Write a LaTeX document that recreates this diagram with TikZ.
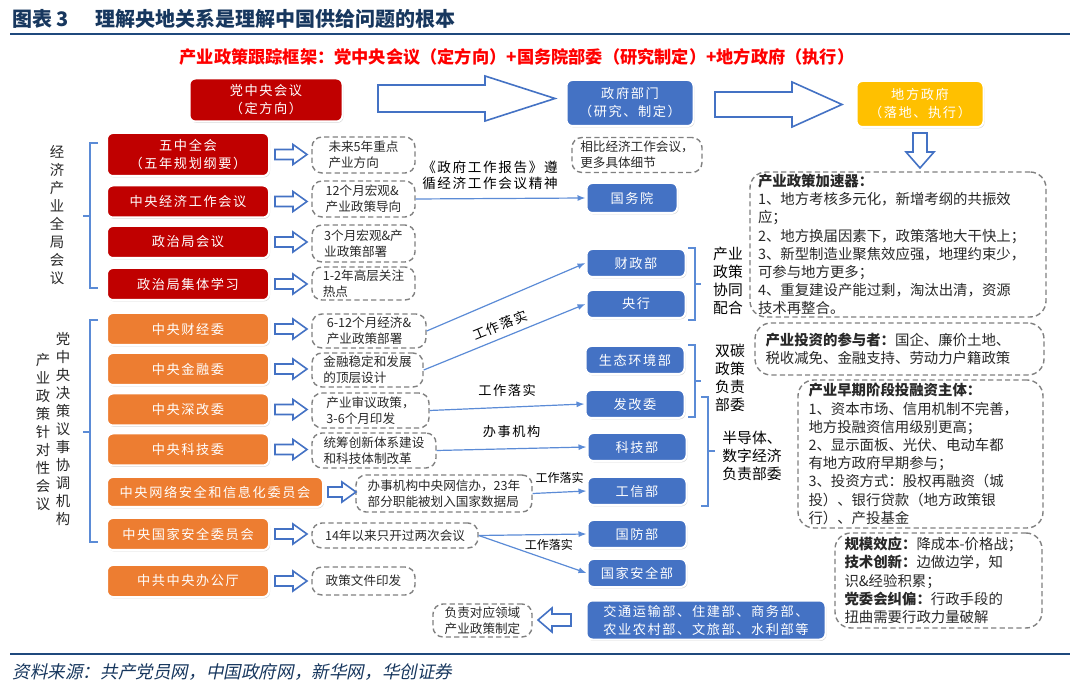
\documentclass[tikz,border=0pt]{standalone}
\usepackage{fontspec}
\setmainfont{Noto Sans CJK SC}
\newfontfamily\spacedfont{Noto Sans CJK SC}[LetterSpace=12]
\newfontfamily\slantfont{Noto Sans CJK SC}[FakeSlant=0.2]
\usepackage{xcolor}
\usetikzlibrary{arrows.meta,shadows,positioning,calc}
\definecolor{HCRed}   {RGB}{192,  0,  0}
\definecolor{HCBlue}  {RGB}{ 68,114,196}
\definecolor{HCOrange}{RGB}{237,125, 49}
\definecolor{HCGold}  {RGB}{255,192,  0}
\definecolor{HCNavy}  {RGB}{ 23, 55, 94}
\definecolor{HCRule}  {RGB}{ 31, 73,125}
\definecolor{HCLine}  {RGB}{ 91,139,214}
\definecolor{HCGray}  {RGB}{128,128,128}
\definecolor{HCText}  {RGB}{ 40, 40, 40}

\tikzset{
  box/.style={draw=white, line width=1pt, rounded corners=3pt, text=white, align=center,
    inner sep=0pt, font=\spacedfont\fontsize{6.6}{9}\selectfont,
    drop shadow={shadow xshift=0.5pt, shadow yshift=-0.7pt, opacity=0.3}},
  redbox/.style={box, fill=HCRed, minimum width=81pt, minimum height=16pt},
  orgbox/.style={box, fill=HCOrange, minimum width=81pt, minimum height=16pt},
  bluebox/.style={box, fill=HCBlue, minimum width=49.5pt, minimum height=14pt},
  note/.style={draw=HCGray, line width=0.7pt, dash pattern=on 2.6pt off 1.6pt,
    rounded corners=5pt, align=left, text=HCText, inner sep=0pt,
    font=\fontsize{6.3}{8}\selectfont},
  wide/.style={draw=HCGray, line width=0.7pt, dash pattern=on 2.6pt off 1.6pt,
    rounded corners=8pt, align=left, text=HCText, inner sep=0pt,
    font=\fontsize{7.2}{9.1}\selectfont},
  vtext/.style={align=center, text=HCText, inner sep=0pt, font=\fontsize{7.2}{9}\selectfont},
  tag/.style={text=black, inner sep=1pt, font=\spacedfont\fontsize{6.6}{8}\selectfont},
  conn/.style={draw=HCLine, line width=0.6pt, -{Latex[length=4pt,width=3pt]}},
  brk/.style={draw=HCLine, line width=0.6pt},
  hollow/.style={draw=HCBlue, line width=0.8pt, fill=white, line join=miter},
}

% hollow block arrows: tail x, tip x, centre y, half shaft, half head, head length
\newcommand{\hollowright}[6]{\draw[hollow] (#1,#3-#4) -- (#2-#6,#3-#4) -- (#2-#6,#3-#5) -- (#2,#3)
  -- (#2-#6,#3+#5) -- (#2-#6,#3+#4) -- (#1,#3+#4) -- cycle;}
% tip x, tail x, centre y, half shaft, half head, head length
\newcommand{\hollowleft}[6]{\draw[hollow] (#2,#3-#4) -- (#1+#6,#3-#4) -- (#1+#6,#3-#5) -- (#1,#3)
  -- (#1+#6,#3+#5) -- (#1+#6,#3+#4) -- (#2,#3+#4) -- cycle;}
% centre x, tail y, tip y, half shaft, half head, head length
\newcommand{\hollowdown}[6]{\draw[hollow] (#1-#4,#2) -- (#1-#4,#3-#6) -- (#1-#5,#3-#6) -- (#1,#3)
  -- (#1+#5,#3-#6) -- (#1+#4,#3-#6) -- (#1+#4,#2) -- cycle;}

\begin{document}
\begin{tikzpicture}[x=0.5pt,y=-0.5pt]
  \useasboundingbox (0,0) rectangle (1080,688);

  % Title and rules
  \node[anchor=west, inner sep=0pt, text=HCNavy, font=\bfseries\fontsize{10}{12}\selectfont]
    (title) at (12,19) {图表 3\hspace{13pt}理解央地关系是理解中国供给问题的根本};
  \draw[HCRule, line width=1.3pt] (10,34) -- (1070,34);
  \node[inner sep=0pt, text=red, font=\bfseries\fontsize{8.6}{10}\selectfont] (frame) at (517,57)
    {产业政策跟踪框架：党中央会议（定方向）+国务院部委（研究制定）+地方政府（执行）};
  \draw[HCRule, line width=1.3pt] (10,654) -- (1070,654);
  \node[anchor=west, inner sep=0pt, text=HCNavy, font=\slantfont\fontsize{8.8}{10}\selectfont]
    (source) at (12,672) {资料来源：共产党员网，中国政府网，新华网，华创证券};

  % Top row
  \node[box, fill=HCRed, minimum width=76.5pt, minimum height=21.5pt] (party) at (266,100) {党中央会议\\（定方向）};
  \node[box, fill=HCBlue, minimum width=63.5pt, minimum height=23pt] (govdept) at (630,103) {政府部门\\（研究、制定）};
  \node[box, fill=HCGold, minimum width=63.5pt, minimum height=23pt] (localgov) at (920,104) {地方政府\\（落地、执行）};
  \hollowright{378}{555}{98.5}{13.5}{22.5}{70}
  \hollowright{715}{842}{104.5}{12.5}{22.5}{50}
  \hollowdown{920}{133}{168}{7}{14}{16}
  \node[note, minimum width=65pt, minimum height=17.5pt] (detail) at (637,155) {相比经济工作会议，\\更多具体细节};

  % Economic meetings
  \node[vtext] (econ) at (57,215) {经\\济\\产\\业\\全\\局\\会\\议};
  \draw[brk] (98,143) -- (90,143) -- (90,288) -- (98,288);
  \draw[brk] (90,216) -- (83,216);
  \node[redbox, minimum height=21.5pt] (plenum) at (188,154.5) {五中全会\\（五年规划纲要）};
  \node[redbox] (cewc) at (188,201.5) {中央经济工作会议};
  \node[redbox] (polit) at (188,242) {政治局会议};
  \node[redbox] (study) at (188,284) {政治局集体学习};
  \node[note, minimum width=51.5pt, minimum height=18pt] (n5yr) at (363.5,155) {未来5年重点\\产业方向};
  \node[note, minimum width=51.5pt, minimum height=18pt] (n12m) at (363.5,199) {12个月宏观\&\\产业政策导向};
  \node[note, minimum width=51.5pt, minimum height=18.5pt] (n3m) at (363.5,243.5) {3个月宏观\&产\\业政策部署};
  \node[note, minimum width=51.5pt, minimum height=16.5pt] (nhot) at (363.5,283.5) {1-2年高层关注\\热点};
  \node[tag, align=center, font=\spacedfont\fontsize{6.8}{8}\selectfont] (report) at (490,175)
    {《政府工作报告》遵\\循经济工作会议精神};

  % Coordination bodies
  \node[vtext] (cmte) at (63,429) {党\\中\\央\\决\\策\\议\\事\\协\\调\\机\\构};
  \node[vtext] (ind) at (43,432) {产\\业\\政\\策\\针\\对\\性\\会\\议};
  \draw[brk] (98,320) -- (90,320) -- (90,542) -- (98,542);
  \draw[brk] (90,432) -- (83,432);
  \node[orgbox] (cfeac) at (188,329) {中央财经委};
  \node[orgbox] (cfc) at (188,369) {中央金融委};
  \node[orgbox] (crc) at (188,409.5) {中央深改委};
  \node[orgbox] (cstc) at (188,449.5) {中央科技委};
  \node[orgbox, minimum width=108pt, minimum height=15pt] (cac) at (215,492) {中央网络安全和信息化委员会};
  \node[orgbox] (cnsc) at (188,534) {中央国家安全委员会};
  \node[orgbox] (office) at (188,581) {中共中央办公厅};
  \node[note, minimum width=57pt, minimum height=17pt] (m612) at (369,331) {6-12个月经济\&\\产业政策部署};
  \node[note, minimum width=55.5pt, minimum height=17pt] (mfin) at (367.5,370) {金融稳定和发展\\的顶层设计};
  \node[note, minimum width=58.5pt, minimum height=17.5pt] (mrev) at (370.5,410.5) {产业审议政策，\\3-6个月印发};
  \node[note, minimum width=62pt, minimum height=17.5pt] (mtech) at (374,450.5) {统筹创新体系建设\\和科技体制改革};
  \node[note, minimum width=88pt, minimum height=18.5pt] (mcac) at (444,493.5) {办事机构中央网信办，23年\\部分职能被划入国家数据局};
  \node[note, minimum width=83pt, minimum height=12.5pt] (mnsc) at (395,535.5) {14年以来只开过两次会议};
  \node[note, minimum width=51.5pt, minimum height=14pt] (mdoc) at (363.5,581) {政策文件印发};
  \node[note, minimum width=49.5pt, minimum height=16.5pt] (mfield) at (482.5,620.5) {负责对应领域\\产业政策制定};

  \foreach \yy in {154.5,201.5,242,284,329,369,409.5,449.5,534,581}
    {\hollowright{275}{307}{\yy}{5}{10}{14}}
  \hollowright{328}{356}{492}{5}{10}{14}
  \hollowleft{538}{571}{620}{6}{12}{14}

  % Ministries
  \node[bluebox, minimum width=45.5pt, minimum height=15pt] (council) at (632,198) {国务院};
  \node[bluebox] (mof) at (636,263) {财政部};
  \node[bluebox] (pboc) at (636,304) {央行};
  \node[bluebox] (mee) at (635,360) {生态环境部};
  \node[bluebox] (ndrc) at (635,404) {发改委};
  \node[bluebox] (most) at (637,447) {科技部};
  \node[bluebox] (miit) at (637,491) {工信部};
  \node[bluebox] (mod) at (637,534) {国防部};
  \node[bluebox] (mss) at (637,573) {国家安全部};
  \node[bluebox, minimum width=119.5pt, minimum height=19.5pt] (others) at (706,620)
    {交通运输部、住建部、商务部、\\农业农村部、文旅部、水利部等};

  % Connectors
  \draw[conn] (n12m.east) -- (council.west);
  \draw[conn] (m612.east) -- (mof.west);
  \draw[conn] (mfin.east) -- node[tag, sloped, above=2pt] (lab1) {工作落实} (pboc.west);
  \draw[conn] (mrev.east) -- node[tag, above=4pt] (lab2) {工作落实} (ndrc.west);
  \draw[conn] (mtech.east) -- node[tag, above=4.5pt] (lab3) {办事机构} (most.west);
  \draw[conn] (mcac.east) -- node[tag, above=3pt, font=\fontsize{6}{7}\selectfont] (lab4) {工作落实} (miit.west);
  \draw[conn] (mnsc.east) -- (mod.west);
  \draw[conn] (mnsc.east) -- node[tag, pos=0.65, above=3.5pt, font=\fontsize{6}{7}\selectfont] (lab5) {工作落实} (mss.west);

  % Ministry groups
  \draw[brk] (688,248) -- (695,248) -- (695,320) -- (688,320);
  \draw[brk] (695,284) -- (701,284);
  \draw[brk] (688,345) -- (695,345) -- (695,417) -- (688,417);
  \draw[brk] (695,381) -- (701,381);
  \draw[brk] (701,397) -- (708,397) -- (708,506) -- (701,506);
  \draw[brk] (708,451) -- (715,451);
  \node[vtext, text=black, font=\fontsize{7.4}{9.1}\selectfont] (synergy) at (728,281) {产业\\政策\\协同\\配合};
  \node[vtext, text=black, font=\fontsize{7.4}{9.1}\selectfont] (carbon) at (730,378) {双碳\\政策\\负责\\部委};
  \node[vtext, text=black, font=\fontsize{7.4}{9.1}\selectfont] (semi) at (752,456) {半导体、\\数字经济\\负责部委};

  % Local level
  \node[wide, minimum width=148pt, minimum height=72.5pt, text width=140pt] (accel) at (898,244.5)
    {\textbf{产业政策加速器：}\\
     1、地方考核多元化，新增考纲的共振效\\
     应；\\
     2、地方换届因素下，政策落地大干快上；\\
     3、新型制造业聚焦效应强，地理约束少，\\
     可参与地方更多；\\
     4、重复建设产能过剩，淘汰出清，资源\\
     技术再整合。};
  \node[wide, minimum width=144.5pt, minimum height=26pt, text width=134pt] (invest) at (899.5,349)
    {\textbf{产业投资的参与者：}国企、廉价土地、\\税收减免、金融支持、劳动力户籍政策};
  \node[wide, minimum width=122.5pt, minimum height=74pt, text width=112pt] (early) at (920.5,454)
    {\textbf{产业早期阶段投融资主体：}\\
     1、资本市场、信用机制不完善，\\
     地方投融资信用级别更高；\\
     2、显示面板、光伏、电动车都\\
     有地方政府早期参与；\\
     3、投资方式：股权再融资（城\\
     投）、银行贷款（地方政策银\\
     行）、产投基金};
  \node[wide, minimum width=103.5pt, minimum height=47.5pt, text width=94pt] (effect) at (938.5,580.5)
    {\textbf{规模效应：}降成本-价格战；\\
     \textbf{技术创新：}边做边学，知\\
     识\&经验积累；\\
     \textbf{党委会纠偏：}行政手段的\\
     扭曲需要行政力量破解};
\end{tikzpicture}
\end{document}
